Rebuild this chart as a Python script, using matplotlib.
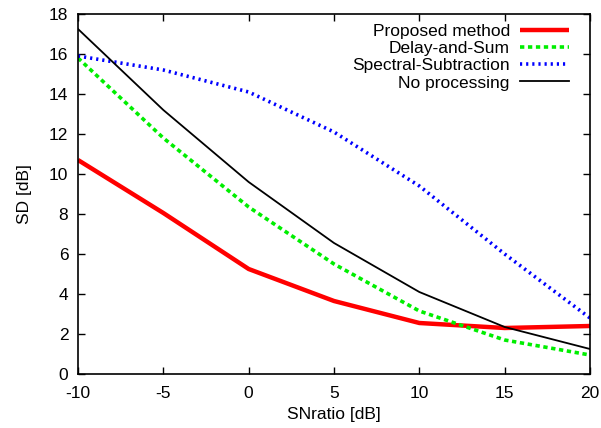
import matplotlib
matplotlib.use("Agg")
import matplotlib.pyplot as plt

plt.rcParams['font.family'] = ['Liberation Sans', 'DejaVu Sans']
plt.rcParams['axes.unicode_minus'] = False

snr = [-10, -5, 0, 5, 10, 15, 20]
proposed = [10.7, 8.05, 5.25, 3.65, 2.55, 2.3, 2.4]
delay_sum = [15.8, 11.8, 8.35, 5.5, 3.15, 1.7, 0.95]
spectral = [15.9, 15.2, 14.1, 12.1, 9.4, 6.0, 2.8]
no_proc = [17.25, 13.2, 9.6, 6.55, 4.1, 2.35, 1.25]

labels = ["Proposed method", "Delay-and-Sum", "Spectral-Subtraction", "No processing"]
xticks = [-10, -5, 0, 5, 10, 15, 20]
yticks = [0, 2, 4, 6, 8, 10, 12, 14, 16, 18]

fig = plt.figure(figsize=(6.01, 4.28), dpi=100)
ax = fig.add_axes([78/601, 54/428, 512/601, 360/428])

ax.plot(snr, proposed, color='#ff0000', lw=3.2, solid_capstyle='butt', label=labels[0])
ax.plot(snr, delay_sum, color='#00ee00', lw=2.6, linestyle=(0, (1.2, 1.0)), label=labels[1])
ax.plot(snr, spectral, color='#0000ff', lw=2.6, linestyle=(0, (0.6, 1.1)), label=labels[2])
ax.plot(snr, no_proc, color='black', lw=1.3, label=labels[3])

ax.set_xlim(-10, 20)
ax.set_ylim(0, 18)
ax.set_xticks(xticks)
ax.set_yticks(yticks)
ax.tick_params(direction='in', top=True, right=True, length=5, width=1, labelsize=12.5)
ax.tick_params(axis='y', pad=7)
ax.tick_params(axis='x', pad=9)
for s in ax.spines.values():
    s.set_linewidth(1.2)

ax.set_xlabel("SNratio [dB]", fontsize=12.5, labelpad=4)
ax.set_ylabel("SD [dB]", fontsize=12.5, labelpad=12)

leg = ax.legend(loc='upper right', bbox_to_anchor=(0.979, 1.002), frameon=False, markerfirst=False,
                fontsize=12.5, handlelength=2.8, handletextpad=0.6, labelspacing=0.12,
                borderaxespad=0.2)
for t in leg.get_texts():
    t.set_ha('right')
leg._legend_box.align = 'right'

fig.savefig("out.png", dpi=100)
